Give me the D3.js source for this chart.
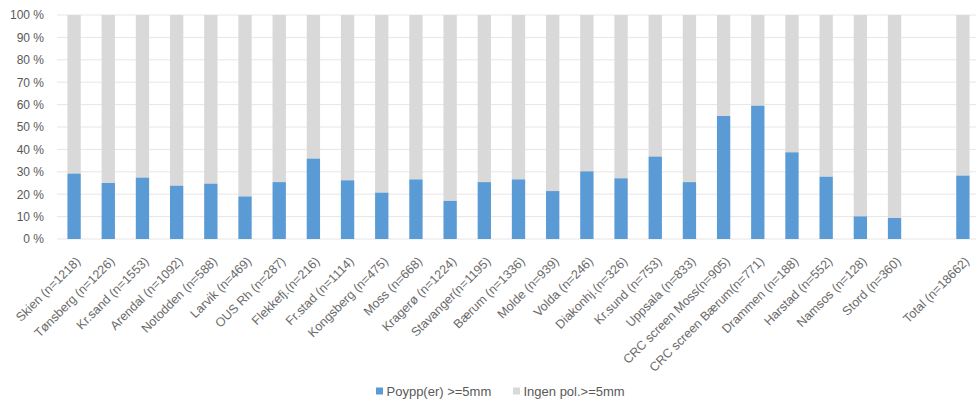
<!DOCTYPE html>
<html>
<head>
<meta charset="utf-8">
<script src="https://cdn.jsdelivr.net/npm/d3@7"></script>
<style>
  html, body { margin: 0; padding: 0; background: #fff; }
  svg { display: block; font-family: "Liberation Sans", Arial, sans-serif; }
</style>
</head>
<body>
<svg id="chart" width="976" height="400"></svg>
<script>
// Sites with number of examinations
const categories = [
  "Skien (n=1218)", "Tønsberg (n=1226)", "Kr.sand (n=1553)", "Arendal (n=1092)",
  "Notodden (n=588)", "Larvik (n=469)", "OUS Rh (n=287)", "Flekkefj.(n=216)",
  "Fr.stad (n=1114)", "Kongsberg (n=475)", "Moss (n=668)", "Kragerø (n=1224)",
  "Stavanger(n=1195)", "Bærum (n=1336)", "Molde (n=939)", "Volda (n=246)",
  "Diakonhj.(n=326)", "Kr.sund (n=753)", "Uppsala (n=833)", "CRC screen Moss(n=905)",
  "CRC screen Bærum(n=771)", "Drammen (n=188)", "Harstad (n=552)", "Namsos (n=128)",
  "Stord (n=360)", "", "Total (n=18662)"
];
// Share (%) with polyp(s) >= 5 mm; the blank slot separates Total
const polypShare = [
  29.2, 25.0, 27.4, 23.8, 24.7, 19.0, 25.4, 35.9,
  26.2, 20.7, 26.6, 17.0, 25.4, 26.6, 21.4, 30.2,
  27.1, 36.8, 25.4, 54.9, 59.5, 38.7, 27.8, 10.1,
  9.4, null, 28.3
];
const yTicks = [0, 10, 20, 30, 40, 50, 60, 70, 80, 90, 100];
const seriesNames = ["Poypp(er) >=5mm", "Ingen pol.>=5mm"];
const seriesColors = ["#5b9bd5", "#d9d9d9"];

const svg = d3.select("#chart");
const plot = { left: 57, top: 15, bottom: 239, right: 980 };

const x = d3.scaleBand()
  .domain(d3.range(categories.length))
  .range([plot.left, plot.right])
  .paddingInner(0.61)
  .paddingOuter(0.305);
const y = d3.scaleLinear().domain([0, 100]).range([plot.bottom, plot.top]);

// Gridlines
svg.append("g")
  .selectAll("line")
  .data(yTicks)
  .join("line")
  .attr("x1", plot.left).attr("x2", 976)
  .attr("y1", d => y(d)).attr("y2", d => y(d))
  .attr("stroke", "#e6e6e6").attr("stroke-width", 1);

// Y axis labels
const yAxis = d3.axisLeft(y).tickValues(yTicks).tickSize(0).tickPadding(13)
  .tickFormat(d => d + " %");
svg.append("g")
  .attr("transform", `translate(${plot.left},0)`)
  .call(yAxis)
  .call(g => g.select(".domain").remove())
  .call(g => g.selectAll("text").attr("fill", "#595959").attr("font-size", 12)
    .attr("font-family", "Liberation Sans, Arial, sans-serif"));

// Stacked bars
const rows = categories.map((c, i) => ({ i, p: polypShare[i] }))
  .filter(d => d.p != null);

const bars = svg.append("g");
bars.selectAll("rect.rest")
  .data(rows)
  .join("rect")
  .attr("class", "rest")
  .attr("x", d => x(d.i)).attr("width", x.bandwidth())
  .attr("y", y(100)).attr("height", d => y(d.p) - y(100))
  .attr("fill", seriesColors[1]);
bars.selectAll("rect.polyp")
  .data(rows)
  .join("rect")
  .attr("class", "polyp")
  .attr("x", d => x(d.i)).attr("width", x.bandwidth())
  .attr("y", d => y(d.p)).attr("height", d => y(0) - y(d.p))
  .attr("fill", seriesColors[0]);

// X axis category labels, rotated
svg.append("g")
  .selectAll("text")
  .data(categories.map((c, i) => ({ c, i })).filter(d => d.c))
  .join("text")
  .attr("transform", d => `translate(${x(d.i) + x.bandwidth() / 2 + 4},${plot.bottom + 20}) rotate(-45)`)
  .attr("text-anchor", "end")
  .attr("dy", "0.35em")
  .attr("font-size", 12.5)
  .attr("fill", "#6a6a6a")
  .text(d => d.c);

// Legend
const legend = svg.append("g");
const legendX = [376, 513];
seriesNames.forEach((name, k) => {
  legend.append("rect")
    .attr("x", legendX[k]).attr("y", 387.5).attr("width", 7).attr("height", 7)
    .attr("fill", seriesColors[k]);
  legend.append("text")
    .attr("x", legendX[k] + 10.5).attr("y", 391).attr("dy", "0.35em")
    .attr("font-size", 13).attr("fill", "#595959")
    .text(name);
});
</script>
</body>
</html>
